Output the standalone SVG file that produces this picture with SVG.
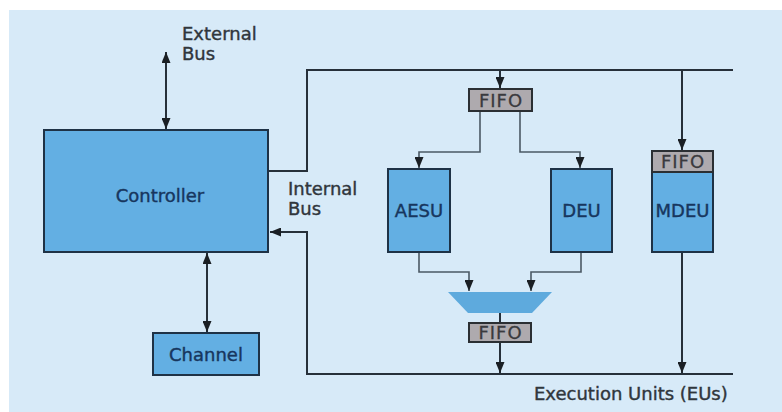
<svg xmlns="http://www.w3.org/2000/svg" width="782" height="412" viewBox="0 0 782 412">
  <style>
    .unit { fill: #63afe3; stroke: #1e3246; stroke-width: 2; }
    .fifo { fill: #aeaaae; stroke: #2b2f33; stroke-width: 2; }
    .bus { fill: none; stroke: #26303a; stroke-width: 2; }
    .link { fill: none; stroke: #4b5964; stroke-width: 1.6; }
    .lbl { font-family: "DejaVu Sans", "Liberation Sans", sans-serif; font-size: 18px; fill: #30363c; stroke: #30363c; stroke-width: 0.4; }
    .name { font-family: "DejaVu Sans", "Liberation Sans", sans-serif; font-size: 18px; fill: #17365e; stroke: #17365e; stroke-width: 0.4; text-anchor: middle; }
    .ftxt { font-family: "DejaVu Sans", "Liberation Sans", sans-serif; font-size: 18px; letter-spacing: 1px; fill: #3a3a3e; stroke: #3a3a3e; stroke-width: 0.3; text-anchor: middle; }
  </style>
  <defs>
    <marker id="tip" viewBox="0 0 10 10" refX="10" refY="5" markerWidth="11" markerHeight="9" markerUnits="userSpaceOnUse" orient="auto-start-reverse" preserveAspectRatio="none">
      <path d="M0,0 L10,5 L0,10 Z" fill="#1a1f24"/>
    </marker>
  </defs>

  <!-- backdrop -->
  <rect x="9" y="10" width="773" height="402" fill="#d7eaf8"/>

  <!-- connectors -->
  <g id="connectors">
    <!-- external bus -->
    <line class="bus" x1="166" y1="52" x2="166" y2="129" marker-start="url(#tip)" marker-end="url(#tip)"/>
    <!-- controller to channel -->
    <line class="bus" x1="207" y1="253" x2="207" y2="332" marker-start="url(#tip)" marker-end="url(#tip)"/>
    <!-- internal bus, outbound -->
    <polyline class="bus" points="268,171 307,171 307,70 733,70"/>
    <!-- internal bus, return -->
    <polyline class="bus" points="733,374 307,374 307,232 270,232" marker-end="url(#tip)"/>
    <!-- bus to input FIFO and MDEU -->
    <line class="bus" x1="500" y1="70" x2="500" y2="88" marker-end="url(#tip)"/>
    <line class="bus" x1="682" y1="70" x2="682" y2="150" marker-end="url(#tip)"/>
    <!-- input FIFO fan-out -->
    <polyline class="link" points="480,111 480,152 419,152 419,168" marker-end="url(#tip)"/>
    <polyline class="link" points="520,111 520,152 580,152 580,168" marker-end="url(#tip)"/>
    <!-- units into mux -->
    <polyline class="link" points="419,252 419,272 469,272 469,291" marker-end="url(#tip)"/>
    <polyline class="link" points="581,252 581,272 531,272 531,291" marker-end="url(#tip)"/>
    <!-- mux to output FIFO and bus -->
    <line class="bus" x1="500" y1="313" x2="500" y2="323"/>
    <line class="bus" x1="500" y1="342" x2="500" y2="373" marker-end="url(#tip)"/>
    <line class="bus" x1="682" y1="252" x2="682" y2="373" marker-end="url(#tip)"/>
  </g>

  <g id="controller">
    <rect class="unit" x="44" y="130" width="224" height="122"/>
    <text class="name" x="160" y="202">Controller</text>
  </g>

  <g id="channel">
    <rect class="unit" x="153" y="333" width="106" height="42"/>
    <text class="name" x="206" y="361">Channel</text>
  </g>

  <g id="fifo-in">
    <rect class="fifo" x="469" y="89" width="63" height="22"/>
    <text class="ftxt" x="501" y="107">FIFO</text>
  </g>

  <g id="aesu">
    <rect class="unit" x="388" y="169" width="62" height="83"/>
    <text class="name" x="419" y="217">AESU</text>
  </g>

  <g id="deu">
    <rect class="unit" x="551" y="169" width="61" height="83"/>
    <text class="name" x="581.5" y="217">DEU</text>
  </g>

  <g id="mdeu">
    <rect class="unit" x="652" y="151" width="61" height="101"/>
    <rect class="fifo" x="652" y="151" width="61" height="21"/>
    <text class="ftxt" x="683" y="168">FIFO</text>
    <text class="name" x="682.5" y="217">MDEU</text>
  </g>

  <g id="mux">
    <polygon points="448,292 552,292 532,313 468,313" fill="#5eaadd"/>
  </g>

  <g id="fifo-out">
    <rect class="fifo" x="469" y="323" width="62" height="19"/>
    <text class="ftxt" x="500.5" y="339">FIFO</text>
  </g>

  <g id="labels">
    <text class="lbl" x="182" y="40">External</text>
    <text class="lbl" x="182" y="60">Bus</text>
    <text class="lbl" x="288" y="195">Internal</text>
    <text class="lbl" x="288" y="215">Bus</text>
    <text class="lbl" x="534" y="400">Execution Units (EUs)</text>
  </g>
</svg>
